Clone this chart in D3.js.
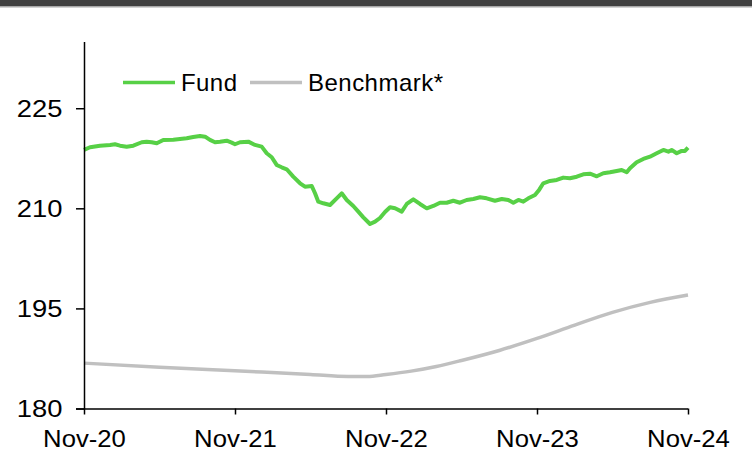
<!DOCTYPE html>
<html>
<head>
<meta charset="utf-8">
<script src="https://cdn.jsdelivr.net/npm/d3@7"></script>
<style>
  body { margin: 0; background: #fff; }
  svg text { font-family: "Liberation Sans", Arial, sans-serif; fill: #000; }
</style>
</head>
<body>
<div id="chart"></div>
<script>
// Months since Nov-20 and fund values
const fundMonths = [0, 0.48, 1.27, 2.07, 2.46, 2.86, 3.39, 3.92, 4.59, 4.98, 5.38, 5.78, 6.3, 7.1, 7.63, 8.16, 8.68, 9.22, 9.62, 10.01,
  10.41, 10.81, 11.34, 11.74, 12, 12.4, 13.06, 13.59, 14.12, 14.52, 14.92, 15.31, 15.71, 16.11, 16.63, 17.17, 17.56, 18.1, 18.36, 18.62,
  19.02, 19.55, 20.08, 20.48, 20.88, 21.4, 21.8, 22.2, 22.73, 23.13, 23.52, 23.92, 24.32, 24.72, 25.25, 25.65, 26.17, 26.7, 27.24, 27.76,
  28.29, 28.82, 29.35, 29.88, 30.41, 30.94, 31.47, 32, 32.66, 33.2, 33.72, 34.12, 34.52, 34.91, 35.31, 35.84, 36.18, 36.5, 37.03, 37.57,
  38.09, 38.62, 39.16, 39.68, 40.21, 40.75, 41.27, 41.8, 42.33, 42.73, 43.13, 43.39, 43.92, 44.45, 44.98, 45.51, 46.04, 46.44, 46.7, 47.1,
  47.5, 47.76, 48];
const fundValues = [218.75, 219.15, 219.39, 219.5, 219.6, 219.39, 219.24, 219.39, 219.9, 219.99, 219.9, 219.75, 220.25, 220.29, 220.4, 220.5, 220.7, 220.85, 220.74, 220.25,
  219.9, 219.99, 220.14, 219.84, 219.6, 219.9, 219.99, 219.5, 219.24, 218.25, 217.65, 216.5, 216.15, 215.85, 214.74, 213.75, 213.24, 213.35, 212.25, 211.0,
  210.75, 210.5, 211.5, 212.25, 211.25, 210.35, 209.5, 208.65, 207.65, 208.0, 208.55, 209.45, 210.15, 210.0, 209.5, 210.65, 211.35, 210.65, 210.0, 210.35,
  210.84, 210.84, 211.14, 210.84, 211.25, 211.4, 211.65, 211.5, 211.14, 211.4, 211.25, 210.84, 211.25, 211.0, 211.5, 212.0, 212.8, 213.75, 214.1, 214.25,
  214.6, 214.5, 214.74, 215.1, 215.19, 214.8, 215.25, 215.4, 215.6, 215.75, 215.4, 216.0, 216.9, 217.4, 217.74, 218.25, 218.75, 218.49, 218.75, 218.25,
  218.6, 218.6, 219.09];

const benchMonths = [0, 6, 12, 18, 21, 22.5, 24, 26, 28, 30, 33, 36, 39, 42, 45, 48];
const benchValues = [186.8, 186.2, 185.65, 185.1, 184.8, 184.8, 185.1, 185.6, 186.3, 187.2, 188.7, 190.5, 192.5, 194.4, 195.9, 197.0];

const xTickMonths = [0, 12, 24, 36, 48];
const xTickLabels = ["Nov-20", "Nov-21", "Nov-22", "Nov-23", "Nov-24"];
const yTicks = [180, 195, 210, 225];
const seriesNames = ["Fund", "Benchmark*"];
const seriesColors = ["#57d046", "#c0c0c0"];

const W = 752, H = 453;
const svg = d3.select("#chart").append("svg").attr("width", W).attr("height", H);

// top banner
svg.append("rect").attr("x", 0).attr("y", 0).attr("width", W).attr("height", 6).attr("fill", "#404040");
svg.append("rect").attr("x", 0).attr("y", 6).attr("width", W).attr("height", 1.5).attr("fill", "#a8a8a8");

const x = d3.scaleLinear().domain([0, 48]).range([84, 688]);
const y = d3.scaleLinear().domain([180, 235]).range([408.5, 41.5]);

const line = d3.line()
  .x(d => x(d[0]))
  .y(d => y(d[1]));

// benchmark first, fund on top
svg.append("path")
  .datum(benchMonths.map((m, i) => [m, benchValues[i]]))
  .attr("fill", "none")
  .attr("stroke", seriesColors[1])
  .attr("stroke-width", 3.5)
  .attr("d", line.curve(d3.curveMonotoneX));

svg.append("path")
  .datum(fundMonths.map((m, i) => [m, fundValues[i]]))
  .attr("fill", "none")
  .attr("stroke", seriesColors[0])
  .attr("stroke-width", 4)
  .attr("stroke-linejoin", "round")
  .attr("d", line.curve(d3.curveLinear));

// y axis
const yAxis = svg.append("g")
  .attr("transform", `translate(${x(0)},0)`)
  .call(d3.axisLeft(y).tickValues(yTicks).tickSize(8).tickSizeOuter(0).tickPadding(11));
yAxis.select(".domain").attr("stroke", "#000").attr("stroke-width", 1.5);
yAxis.selectAll(".tick line").attr("stroke", "#000").attr("stroke-width", 1.5);
yAxis.selectAll(".tick text")
  .attr("font-size", 24)
  .attr("dy", "0.35em")
  .attr("transform", "scale(1.14,1)")
  .attr("font-family", "Liberation Sans, Arial, sans-serif");

// x axis
const xAxis = svg.append("g")
  .attr("transform", `translate(0,${y(180)})`)
  .call(d3.axisBottom(x).tickValues(xTickMonths).tickFormat((d, i) => xTickLabels[i])
    .tickSize(6).tickSizeOuter(0).tickPadding(15));
xAxis.select(".domain").attr("stroke", "#000").attr("stroke-width", 1.5)
  .attr("d", `M${x(0) - 8},0.5H${x(48)}`);
xAxis.selectAll(".tick line").attr("stroke", "#000").attr("stroke-width", 1.5);
xAxis.selectAll(".tick text")
  .attr("font-size", 24)
  .attr("transform", "scale(1.07,1)")
  .attr("font-family", "Liberation Sans, Arial, sans-serif");

// legend
const legend = svg.append("g");
const legendX = [123, 250];
seriesNames.forEach((name, i) => {
  legend.append("line")
    .attr("x1", legendX[i]).attr("x2", legendX[i] + 52)
    .attr("y1", 82.5).attr("y2", 82.5)
    .attr("stroke", seriesColors[i]).attr("stroke-width", 3.5);
  legend.append("text")
    .attr("x", legendX[i] + 58).attr("y", 91)
    .attr("font-size", 24)
    .attr("textLength", i === 0 ? 56 : 135)
    .text(name);
});
</script>
</body>
</html>
